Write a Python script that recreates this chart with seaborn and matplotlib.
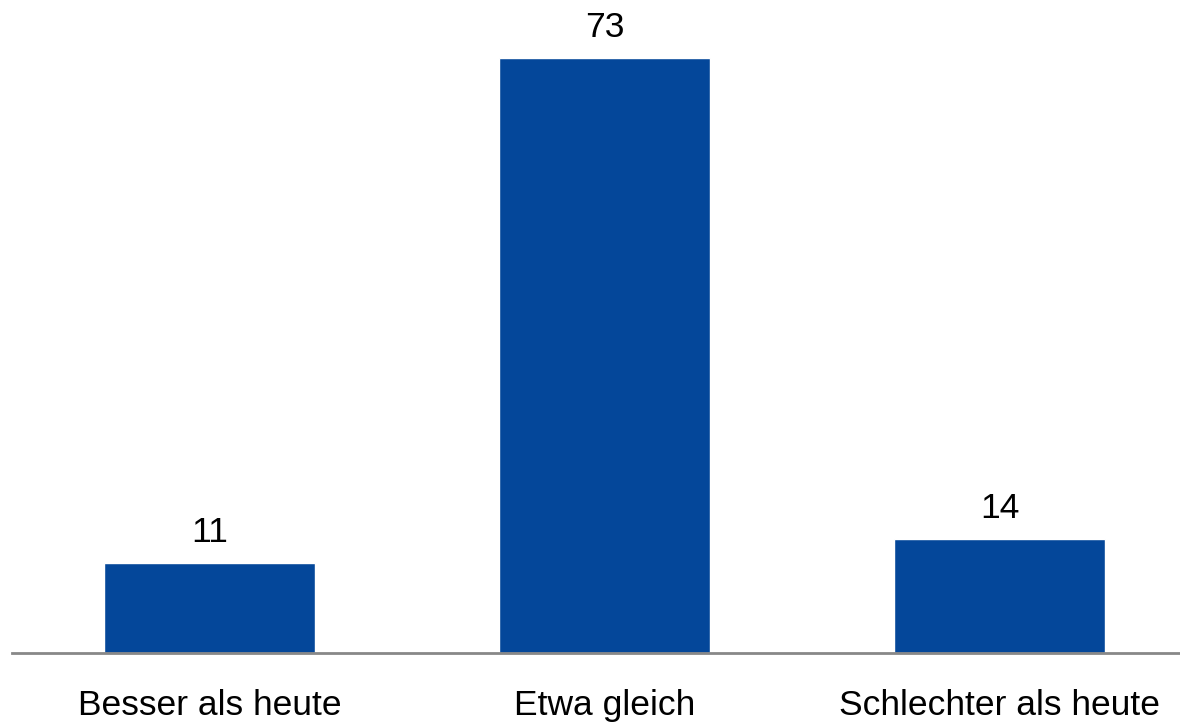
import matplotlib
matplotlib.use("Agg")
import matplotlib.pyplot as plt
import seaborn as sns
import pandas as pd

# Chart data
categories = ["Besser als heute", "Etwa gleich", "Schlechter als heute"]
values = [11, 73, 14]

df = pd.DataFrame({"category": categories, "value": values})

sns.set_theme(style="white")
plt.rcParams['font.family'] = ['Liberation Sans', 'DejaVu Sans']

fig = plt.figure(figsize=(11.8, 7.22), dpi=100)
ax = fig.add_axes([12 / 1180, 69 / 722, 1168 / 1180, 652 / 722])

sns.barplot(data=df, x="category", y="value", color="#04479A", saturation=1,
            width=0.534, ax=ax)

# value labels above bars
for i, v in enumerate(values):
    ax.annotate(str(v), xy=(i, v), xytext=(0, 10), textcoords="offset points",
                ha="center", va="bottom", fontsize=25.5, color="black")

ax.set_xlim(-0.5, 2.456)
ax.set_ylim(0, 80)
ax.set_xlabel("")
ax.set_ylabel("")
ax.set_yticks([])
ax.tick_params(axis="x", length=0, pad=26, labelsize=25.5, colors="black")

for side in ["top", "right", "left"]:
    ax.spines[side].set_visible(False)
ax.spines["bottom"].set_color("#888888")
ax.spines["bottom"].set_linewidth(2)

fig.savefig("out.png", dpi=100)
